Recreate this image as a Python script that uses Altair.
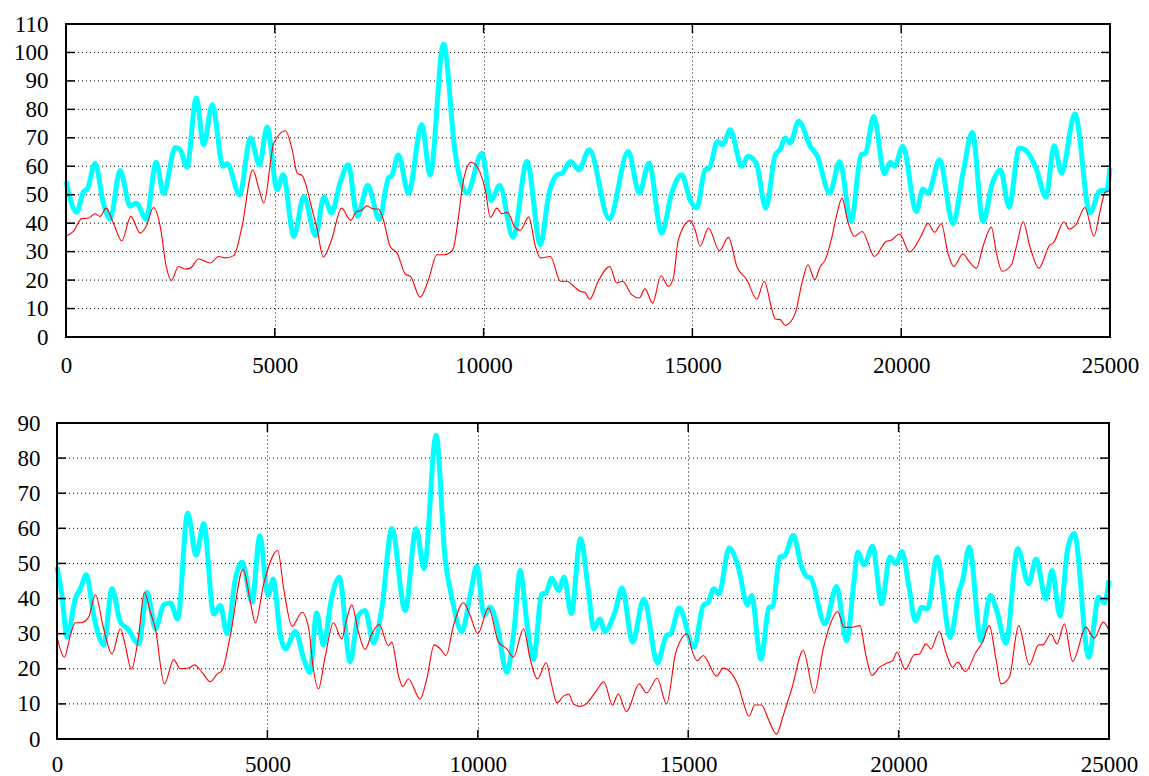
import altair as alt
import pandas as pd

FONT = "Liberation Serif"

x_ticks = [0, 5000, 10000, 15000, 20000, 25000]
top_y_ticks = [0, 10, 20, 30, 40, 50, 60, 70, 80, 90, 100, 110]
bot_y_ticks = [0, 10, 20, 30, 40, 50, 60, 70, 80, 90]

# ---- top panel, thick cyan series
top_cyan_x = [0, 256, 416, 512, 696, 896, 1056, 1296, 1536, 1680, 1920, 2160, 2336, 2616, 2736, 2896,
              3120, 3296, 3504, 3760, 3856, 4160, 4416, 4632, 4816, 5056, 5200, 5456, 5696, 5976,
              6176, 6360, 6560, 6760, 6976, 7224, 7504, 7720, 7800, 7960, 8200, 8520, 8720, 9040,
              9320, 9600, 9960, 10176, 10384, 10704, 11040, 11360, 11560, 11760, 11880, 12080,
              12280, 12530, 13008, 13464, 13728, 13960, 14264, 14504, 14744, 14944, 15104, 15304,
              15408, 15600, 15728, 15904, 16184, 16328, 16528, 16760, 16984, 17104, 17224, 17344,
              17544, 17824, 17984, 18288, 18528, 18800, 19040, 19144, 19344, 19600, 19736, 19840,
              20040, 20360, 20520, 20640, 20920, 21240, 21480, 21704, 21960, 22184, 22376, 22584,
              22824, 22984, 23240, 23464, 23664, 23840, 24160, 24520, 24760, 24920, 25000]
top_cyan_y = [54.7, 43.8, 51, 52, 61, 47, 41.5, 58.5, 46, 47, 41.5, 61.4, 50.4, 66.6, 65.8, 59.7,
              84, 67.6, 81.6, 60, 61, 50, 70, 60.5, 73.8, 51.8, 57, 35.4, 49.4, 35.6,
              49.2, 43.6, 54, 60.5, 42.4, 53.3, 41.2, 55.9, 56.7, 64, 50.6, 74.6, 57, 103,
              64.6, 50.6, 64.6, 48, 53.2, 35.1, 61.7, 32.4, 50, 57, 57.5, 61.7,
              58.8, 65.8, 41.5, 65.2, 50.6, 61.1, 36.5, 50.6, 57, 48.2, 45.3, 58.8,
              59.4, 68.7, 67.6, 72.8, 60, 63.5, 61.1, 45.3, 64, 66, 69.9, 68.2,
              75.8, 67, 63.8, 50.6, 61.7, 40.6, 64, 64.6, 77.5, 57.4, 61.4, 60,
              67, 44.1, 52, 50.4, 62.3, 39.8, 57.6, 71.9, 40.6, 54.1, 58.8, 45.7,
              66.4, 65.6, 58.8, 49.2, 67.2, 57.6, 78.5, 43.6, 51.4, 51.5, 59.4]

# ---- top panel, thin red series
top_red_x = [0, 176, 376, 536, 696, 816, 960, 1136, 1336, 1552, 1776, 1920, 2096, 2256, 2400, 2520,
             2696, 2856, 2976, 3176, 3456, 3656, 3816, 4016, 4216, 4472, 4616, 4736, 4976, 5256,
             5416, 5536, 5656, 5896, 6016, 6160, 6360, 6600, 6816, 6960, 7080, 7200, 7360, 7480,
             7600, 7760, 7936, 8120, 8256, 8480, 8680, 8880, 9056, 9200, 9280, 9400, 9520, 9704,
             9920, 10040, 10160, 10320, 10440, 10576, 10736, 10880, 11080, 11240, 11360, 11600,
             11840, 12000, 12160, 12320, 12424, 12544, 12744, 13024, 13184, 13328, 13544, 13728,
             13864, 14048, 14248, 14424, 14544, 14664, 14944, 15064, 15184, 15384, 15648, 15864,
             16064, 16304, 16544, 16720, 16904, 16984, 17104, 17224, 17464, 17624, 17768, 17928,
             18064, 18184, 18344, 18448, 18584, 18720, 18880, 19064, 19360, 19640, 19760, 19960,
             20200, 20480, 20640, 20800, 20960, 21120, 21256, 21480, 21624, 21800, 21960, 22160,
             22280, 22416, 22640, 22760, 22920, 23080, 23296, 23560, 23640, 23896, 24024, 24184,
             24400, 24616, 24760, 24880, 25000]
top_red_y = [35.4, 37.1, 41.6, 41.8, 43.3, 42.4, 45.3, 40, 33.8, 42.4, 36.5, 38.9, 45.5, 38.9, 24.8, 19.9,
             24.8, 23.9, 24.2, 27.4, 26, 28.3, 27.8, 28.6, 38.9, 58.8, 52.3, 47.1, 68.1, 72.5,
             65.8, 57.6, 56.7, 44.7, 37.7, 28.1, 34.2, 45.3, 41, 44.1, 44.5, 46.1, 45, 45,
             41.2, 31.9, 29.3, 22.2, 21.1, 14, 20.1, 28.9, 28.9, 29.7, 31.3, 42.4, 55.3, 61.4,
             57.6, 51.8, 42, 45.3, 43.3, 43.8, 38.9, 37.5, 42.2, 31.9, 27.8, 28.3,
             19.6, 19.6, 17.8, 16, 15.7, 13.3, 19.6, 24.8, 19, 19.6, 14.9, 13.7,
             16.9, 11.9, 21.5, 17.8, 20.7, 34.2, 40.9, 37.7, 31.9, 38.3, 30.3, 35,
             24.8, 20.1, 13.3, 19.6, 9.6, 6.3, 6.1, 4.1, 8.4, 19, 25.4, 20.1,
             24.8, 27.2, 35.4, 42.4, 48.8, 40.6, 35.4, 37.1, 28.3, 33.6, 34, 36.2,
             29.9, 35.6, 40, 36.8, 39.8, 29.5, 24.8, 29.2, 26.6, 24.2, 31.9, 38.6,
             29.5, 23.1, 25.4, 31.9, 40.6, 31.9, 24.2, 32.4, 33, 40.4, 37.9, 39.5,
             45.5, 35.4, 44.1, 50.8, 51.5]

# ---- bottom panel, thick cyan series
bot_cyan_x = [0, 119, 238, 436, 555, 697, 872, 1109, 1307, 1506, 1680, 1941, 2140, 2338, 2536, 2694,
              2868, 3106, 3304, 3487, 3724, 3883, 4041, 4239, 4398, 4636, 4818, 5016, 5135, 5309,
              5428, 5666, 5864, 6010, 6170, 6331, 6529, 6711, 6965, 7163, 7322, 7520, 7718, 7956,
              8273, 8534, 8724, 9009, 9223, 9382, 9620, 9818, 9976, 10151, 10293, 10452, 10689,
              10864, 11006, 11165, 11323, 11521, 11620, 11759, 11918, 12052, 12220, 12440, 12623,
              12757, 12900, 13019, 13257, 13431, 13677, 13946, 14271, 14485, 14580, 14786, 15135,
              15357, 15475, 15610, 15729, 15975, 16189, 16410, 16506, 16727, 16926, 17005, 17179,
              17298, 17496, 17694, 17813, 17908, 18249, 18526, 18764, 18946, 19025, 19184, 19382,
              19596, 19794, 19937, 20079, 20254, 20396, 20555, 20689, 20911, 21228, 21442, 21521,
              21680, 21957, 22179, 22314, 22552, 22829, 23090, 23265, 23502, 23645, 23835, 24017,
              24176, 24517, 24754, 24889, 25000]
bot_cyan_y = [49, 40.9, 29, 40, 42.8, 46.8, 35.2, 26.8, 42.8, 33.3, 31.4, 27.1, 41.8, 31.4, 38.2, 38.7,
              34.2, 64.4, 52.3, 61.3, 35.6, 38, 30, 45.6, 50.4, 39, 57.8, 40.9, 45.6, 29.5,
              25.7, 30.6, 22.8, 19, 35.9, 26.8, 40.4, 46.1, 22, 35.2, 36.6, 27.4, 37.1, 59.9,
              36.6, 59.9, 48.5, 86.5, 51.3, 40.4, 30.6, 40.9, 49.2, 35.2, 37.5, 32.8, 19,
              31.4, 48, 33.3, 22.6, 41.3, 41.6, 45.8, 42.3, 46.1, 35.7, 57, 42.8,
              31.4, 34.2, 30.6, 36.1, 43, 27.6, 39.9, 21.7, 29.5, 29.9, 37.3, 26.1,
              38, 39, 42.8, 41.3, 54.4, 49, 38.2, 40.9, 22.8, 37.5, 37.8, 51.8,
              52.3, 58, 49, 46.3, 45.9, 32.8, 43.4, 28, 45.6, 53.2, 49.6, 54.9,
              38.5, 51.8, 49.9, 53.4, 42.8, 33.7, 37.5, 37.1, 51.8, 29, 42.3, 45.2,
              54.7, 28, 40.9, 37.3, 27.3, 54.2, 44.2, 51.3, 39.9, 48, 35, 54.2,
              58.5, 23.3, 40.4, 38.8, 45.2]

# ---- bottom panel, thin red series
bot_red_x = [0, 174, 317, 436, 570, 753, 911, 1109, 1307, 1506, 1624, 1767, 1941, 2076, 2219, 2338,
             2551, 2773, 2932, 3130, 3265, 3447, 3645, 3804, 3922, 4120, 4422, 4596, 4715, 4913,
             5246, 5388, 5586, 5824, 5983, 6080, 6212, 6371, 6569, 6767, 6886, 7005, 7163, 7322,
             7480, 7655, 7876, 7956, 8114, 8217, 8352, 8629, 8788, 8962, 9105, 9247, 9422, 9659,
             9818, 10000, 10254, 10491, 10689, 10848, 11086, 11244, 11418, 11624, 11759, 11878,
             12037, 12155, 12274, 12417, 12544, 12821, 12995, 13201, 13336, 13534, 13835, 14010,
             14263, 14485, 14707, 14976, 15103, 15214, 15357, 15674, 15832, 16189, 16307, 16442,
             16585, 16743, 16902, 17100, 17258, 17456, 17734, 17995, 18209, 18407, 18550, 18708,
             18867, 19081, 19223, 19366, 19540, 19739, 19857, 19960, 20158, 20372, 20491, 20650,
             20769, 20967, 21125, 21284, 21403, 21585, 21838, 21997, 22155, 22314, 22433, 22631,
             22853, 23106, 23328, 23423, 23621, 23764, 23938, 24136, 24453, 24651, 24865, 25000]
bot_red_y = [29, 23.3, 29.5, 33.1, 33.1, 34.7, 41.1, 31.4, 24.2, 31.4, 26.6, 19.8, 29.5, 41.8, 36.1, 31.4,
             15.7, 22.6, 20, 20.2, 21.1, 19, 16.3, 18.5, 19.5, 29.5, 48.3, 39, 33.1, 44.2,
             53.7, 42.8, 32.1, 36.1, 31.4, 21, 14.3, 23.3, 33.1, 28.5, 34.2, 38.2, 30.4, 25.5,
             29.9, 32.6, 26.6, 27.6, 18.1, 15, 17.1, 11.4, 17.1, 26.8, 25.7, 23.8, 32.3, 38.8,
             35.2, 30, 37.3, 27.6, 25.7, 23.3, 31.4, 22.8, 17.1, 21.7, 15.2, 10.3,
             12.2, 12.8, 10, 9.3, 9.7, 13.8, 16.3, 9.7, 12.8, 7.8, 15.7, 13.1,
             17.3, 10, 24.7, 29.9, 24.7, 22.3, 23.8, 17.9, 20.2, 15.2, 10.5, 6.5,
             9.7, 9.7, 5.7, 1.4, 6.7, 14.1, 25.2, 13.1, 25.7, 33.7, 36.3, 31.8,
             31.8, 32.3, 23.8, 18.1, 20.4, 21.7, 22.3, 24.7, 19.8, 24, 24.2, 27.1,
             25.7, 30.6, 24.7, 20.4, 21.9, 19.2, 24.7, 27.6, 32.3, 22.8, 15.7, 17.6,
             32.3, 21.1, 26.8, 26.8, 29.9, 27.1, 32.8, 22.1, 31.8, 28.7, 33.3, 30.9]


def panel(cx, cy, rx, ry, yticks, W, H, inset, ylab_pad, xlab_pad):
    """W, H: plot-frame size; inset: blank strip left of the frame inside the view."""
    x0, x1 = inset, inset + W
    xs = alt.Scale(domain=[0, 25000], nice=False, zero=False, range=[x0, x1])
    ys = alt.Scale(domain=[yticks[0], yticks[-1]], nice=False, zero=False)
    xa = alt.Axis(values=x_ticks, format="d", labelFlush=False, labelPadding=xlab_pad,
                  title=None, grid=True)
    ya = alt.Axis(values=yticks, format="d", labelPadding=ylab_pad, title=None, grid=False)
    cyan = pd.DataFrame({"x": cx, "y": cy})
    red = pd.DataFrame({"x": rx, "y": ry})
    xt = pd.DataFrame({"v": x_ticks})
    yt = pd.DataFrame({"v": yticks})
    one = pd.DataFrame({"v": [0]})

    ygrid = alt.Chart(yt).mark_rule(color="black", strokeWidth=1, strokeDash=[1, 3]).encode(
        y=alt.Y("v:Q", scale=ys, axis=ya), x=alt.value(x0), x2=alt.value(x1))
    cyan_line = alt.Chart(cyan).mark_line(
        color="#00ffff", strokeWidth=5, interpolate="monotone", strokeJoin="round"
    ).encode(
        x=alt.X("x:Q", scale=xs, axis=xa),
        y=alt.Y("y:Q", scale=ys, axis=ya),
    )
    red_line = alt.Chart(red).mark_line(
        color="#ff0000", strokeWidth=1.1, interpolate="monotone"
    ).encode(
        x=alt.X("x:Q", scale=xs, axis=xa),
        y=alt.Y("y:Q", scale=ys, axis=ya),
    )
    tick = dict(color="black", strokeWidth=1.5)
    left = alt.Chart(yt).mark_rule(**tick).encode(
        y=alt.Y("v:Q", scale=ys, axis=ya), x=alt.value(x0), x2=alt.value(x0 + 9))
    right = alt.Chart(yt).mark_rule(**tick).encode(
        y=alt.Y("v:Q", scale=ys, axis=ya), x=alt.value(x1 - 9), x2=alt.value(x1))
    bottom = alt.Chart(xt).mark_rule(**tick).encode(
        x=alt.X("v:Q", scale=xs, axis=xa), y=alt.value(H - 9), y2=alt.value(H))
    top = alt.Chart(xt).mark_rule(**tick).encode(
        x=alt.X("v:Q", scale=xs, axis=xa), y=alt.value(0), y2=alt.value(9))
    frame = alt.Chart(one).mark_rect(
        fill="white", fillOpacity=0, stroke="black", strokeWidth=2
    ).encode(x=alt.value(x0), x2=alt.value(x1), y=alt.value(0), y2=alt.value(H))
    return alt.layer(ygrid, cyan_line, red_line, left, right, bottom, top, frame).properties(
        width=x1, height=H)


top_panel = panel(top_cyan_x, top_cyan_y, top_red_x, top_red_y, top_y_ticks, 1044, 313, 9, 9, 17)
bot_panel = panel(bot_cyan_x, bot_cyan_y, bot_red_x, bot_red_y, bot_y_ticks, 1052, 316, 0, 17, 14)

chart = alt.concat(top_panel, bot_panel, columns=1, spacing=35).properties(
    padding={"left": 5, "top": 5, "right": 0, "bottom": 0}
).configure_view(
    stroke=None
).configure_axis(
    labelFont=FONT, labelFontSize=23, labelColor="black",
    domain=False, ticks=False, tickSize=0,
    gridColor="black", gridDash=[1, 3], gridWidth=1, gridOpacity=1,
)

chart.save("out.html", embed_options={"renderer": "svg", "actions": False})
